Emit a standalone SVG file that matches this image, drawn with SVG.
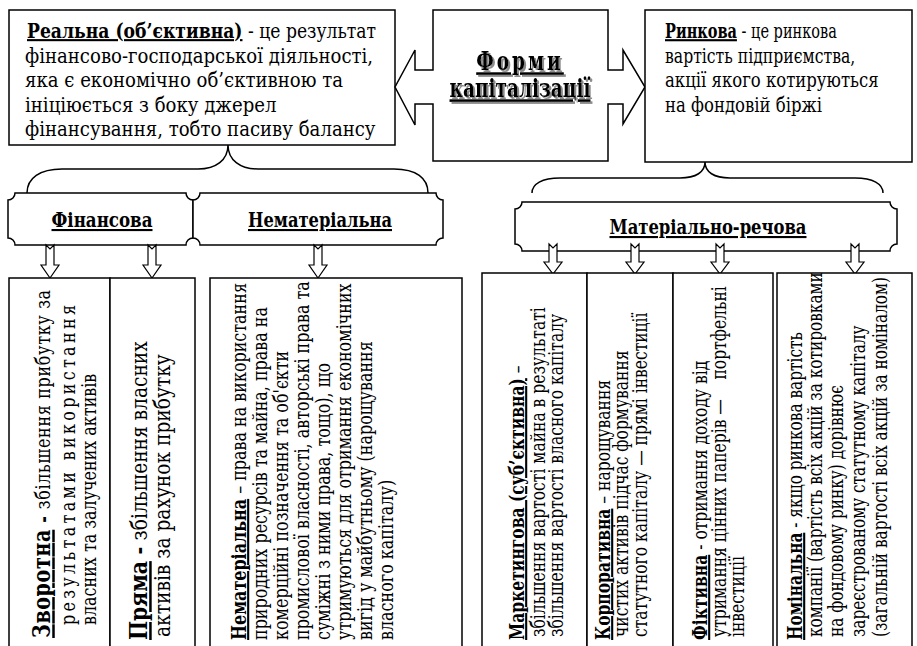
<svg xmlns="http://www.w3.org/2000/svg" width="917" height="646" viewBox="0 0 917 646" font-family="DejaVu Serif, serif">
<style>
.bx{fill:#fff;stroke:#000;stroke-width:1.5}
.ln{fill:none;stroke:#000;stroke-width:1.5}
.ar{fill:#fff;stroke:#000;stroke-width:1.2}
text{font-family:"DejaVu Serif",serif;fill:#000}
.tl{font-size:18.1px}
.tr{font-size:16.5px}
.b{font-weight:bold;text-decoration:underline}
.bb{font-weight:bold}
.ttl{font-size:18.5px;font-weight:bold;text-decoration:underline;text-anchor:middle}
.pl{font-size:21px;font-weight:bold;text-decoration:underline;text-anchor:middle}
.v{font-size:21px}
.vb{font-size:23px}
</style>
<defs>
<filter id="shadow" x="-10%" y="-20%" width="130%" height="150%">
<feOffset in="SourceAlpha" dx="1.5" dy="1.5" result="o"/>
<feFlood flood-color="#8c8c8c"/>
<feComposite in2="o" operator="in" result="s"/>
<feMerge><feMergeNode in="s"/><feMergeNode in="SourceGraphic"/></feMerge>
</filter>
</defs>
<rect width="917" height="646" fill="#fff"/>

<g id="real">
<rect class="bx" x="9" y="10" width="386" height="135"/>
<text class="tl" transform="translate(27,38) scale(0.95,1.16)"><tspan class="b">Реальна (об’єктивна)</tspan> - це результат</text>
<text class="tl" transform="translate(25,63) scale(1,1.16)">фінансово-господарської діяльності,</text>
<text class="tl" transform="translate(25,87) scale(1,1.16)">яка є економічно об’єктивною та</text>
<text class="tl" transform="translate(25,112) scale(1,1.16)">ініціюється з боку джерел</text>
<text class="tl" transform="translate(25,136) scale(1,1.16)">фінансування, тобто пасиву балансу</text>
</g>

<g id="forms">
<path class="bx" d="M433,10 H608 V70 H623 V50 L645,87 L623,124 V104 H608 V161 H433 V104 H415 V125 L395,87 L415,50 V70 H433 Z"/>
<text class="ttl" filter="url(#shadow)" transform="translate(520,0) scale(1,1.4)"><tspan x="0" y="50" letter-spacing="3">Форми</tspan><tspan x="0" y="69.3">капіталізації</tspan></text>
</g>

<g id="market">
<rect class="bx" x="645" y="10" width="267" height="152"/>
<text class="tr" transform="translate(665,38) scale(0.88,1.28)"><tspan class="b">Ринкова</tspan> - це ринкова</text>
<text class="tr" transform="translate(665,63) scale(0.95,1.28)">вартість підприємства,</text>
<text class="tr" transform="translate(665,87) scale(1,1.28)">акції якого котируються</text>
<text class="tr" transform="translate(665,112) scale(1,1.28)">на фондовій біржі</text>
</g>

<g id="connectors">
<path class="ln" d="M27,193 C27,178 40,169 62,169 H198 C216,169 228,160 228,145 C228,160 240,169 258,169 H394 C416,169 428,178 428,193"/>
<path class="ln" d="M532,193 C532,184 542,178 560,178 H680 C696,178 705,172 705,162 C705,172 714,178 730,178 H855 C873,178 883,184 883,193"/>
</g>

<g id="financial">
<path class="bx" d="M15,193 H186 A7,7 0 0 0 193,200 V238 A7,7 0 0 0 186,245 H15 A7,7 0 0 0 8,238 V200 A7,7 0 0 0 15,193 Z"/>
<text class="pl" x="102" y="227" textLength="101" lengthAdjust="spacingAndGlyphs">Фінансова</text>
</g>
<g id="intangible">
<path class="bx" d="M200,193 H436 A7,7 0 0 0 443,200 V238 A7,7 0 0 0 436,245 H200 A7,7 0 0 0 193,238 V200 A7,7 0 0 0 200,193 Z"/>
<text class="pl" x="320" y="227" textLength="144" lengthAdjust="spacingAndGlyphs">Нематеріальна</text>
</g>
<g id="material">
<path class="bx" d="M522,202 H890 A7,7 0 0 0 897,209 V244 A7,7 0 0 0 890,251 H522 A7,7 0 0 0 515,244 V209 A7,7 0 0 0 522,202 Z"/>
<text class="pl" x="708" y="234" textLength="197" lengthAdjust="spacingAndGlyphs">Матеріально-речова</text>
</g>

<g id="arrows">
<polygon class="ar" points="46,245 50,249 54,245 54,265 59,265 50,278 41,265 46,265"/>
<polygon class="ar" points="148,245 152,249 156,245 156,265 161,265 152,278 143,265 148,265"/>
<polygon class="ar" points="314,245 318,249 322,245 322,265 327,265 318,278 309,265 314,265"/>
<polygon class="ar" points="549,244 553,248 557,244 557,262 562,262 553,274 544,262 549,262"/>
<polygon class="ar" points="631,244 635,248 639,244 639,262 644,262 635,274 626,262 631,262"/>
<polygon class="ar" points="716,244 720,248 724,244 724,262 729,262 720,274 711,262 716,262"/>
<polygon class="ar" points="851,244 855,248 859,244 859,262 864,262 855,274 846,262 851,262"/>
</g>

<g id="reverse">
<rect class="bx" x="9" y="278" width="101" height="380"/>
<text class="v" transform="translate(50,638) rotate(-90) scale(0.76,1)" textLength="458" lengthAdjust="spacing"><tspan class="b" font-size="25">Зворотна</tspan><tspan class="bb"> - </tspan>збільшення прибутку за</text>
<text class="v" transform="translate(75,625) rotate(-90) scale(0.76,1)" textLength="421" lengthAdjust="spacing">результатами використання</text>
<text class="v" transform="translate(96,625) rotate(-90) scale(0.76,1)">власних та залучених активів</text>
</g>

<g id="direct">
<rect class="bx" x="110" y="278" width="85" height="380"/>
<text class="vb" transform="translate(147,640) rotate(-90) scale(0.81,1)"><tspan class="b" font-size="25">Пряма</tspan><tspan class="bb"> - </tspan>збільшення власних</text>
<text class="vb" transform="translate(170,637) rotate(-90) scale(0.81,1)">активів за рахунок прибутку</text>
</g>

<g id="intangible-desc">
<rect class="bx" x="210" y="278" width="252" height="380"/>
<text class="v" transform="translate(246,640) rotate(-90) scale(0.76,1)"><tspan class="b">Нематеріальна</tspan> – права на використання</text>
<text class="v" transform="translate(267,640) rotate(-90) scale(0.76,1)">природних ресурсів та майна, права на</text>
<text class="v" transform="translate(288,640) rotate(-90) scale(0.76,1)">комерційні позначення та об'єкти</text>
<text class="v" transform="translate(309,640) rotate(-90) scale(0.76,1)">промислової власності, авторські права та</text>
<text class="v" transform="translate(330,640) rotate(-90) scale(0.76,1)">суміжні з ними права, тощо), що</text>
<text class="v" transform="translate(351,640) rotate(-90) scale(0.76,1)">утримуються для отримання економічних</text>
<text class="v" transform="translate(372,640) rotate(-90) scale(0.76,1)">вигід у майбутньому (нарощування</text>
<text class="v" transform="translate(393,640) rotate(-90) scale(0.76,1)">власного капіталу)</text>
</g>

<g id="marketing">
<rect class="bx" x="482" y="273" width="105" height="385"/>
<text class="v" transform="translate(524,640) rotate(-90) scale(0.74,1)"><tspan class="b">Маркетингова (суб’єктивна)</tspan> –</text>
<text class="v" transform="translate(545,637) rotate(-90) scale(0.74,1)">збільшення вартості майна в  результаті</text>
<text class="v" transform="translate(563,637) rotate(-90) scale(0.74,1)">збільшення вартості власного капіталу</text>
</g>

<g id="corporate">
<rect class="bx" x="587" y="273" width="86" height="385"/>
<text class="v" transform="translate(610,640) rotate(-90) scale(0.74,1)"><tspan class="b">Корпоративна</tspan> – нарощування</text>
<text class="v" transform="translate(628,637) rotate(-90) scale(0.74,1)">чистих активів підчас формування</text>
<text class="v" transform="translate(647,637) rotate(-90) scale(0.74,1)">статутного капіталу — прямі інвестиції</text>
</g>

<g id="fictitious">
<rect class="bx" x="673" y="273" width="100" height="385"/>
<text class="v" transform="translate(707,640) rotate(-90) scale(0.74,1)"><tspan class="b">Фіктивна</tspan> - отримання доходу від</text>
<text class="v" transform="translate(726,637) rotate(-90) scale(0.74,1)">утримання цінних паперів —<tspan x="348">портфельні</tspan></text>
<text class="v" transform="translate(744,637) rotate(-90) scale(0.74,1)">інвестиції</text>
</g>

<g id="nominal">
<rect class="bx" x="777" y="273" width="135" height="385"/>
<text class="v" transform="translate(802,640) rotate(-90) scale(0.73,1)"><tspan class="b">Номінальна</tspan> - якщо ринкова вартість</text>
<text class="v" transform="translate(822,637) rotate(-90) scale(0.73,1)">компанії (вартість всіх акцій за котировками</text>
<text class="v" transform="translate(843,637) rotate(-90) scale(0.73,1)">на фондовому ринку) дорівнює</text>
<text class="v" transform="translate(865,637) rotate(-90) scale(0.73,1)">зареєстрованому статутному капіталу</text>
<text class="v" transform="translate(887,637) rotate(-90) scale(0.73,1)">(загальній вартості всіх акцій за номіналом)</text>
</g>
</svg>
